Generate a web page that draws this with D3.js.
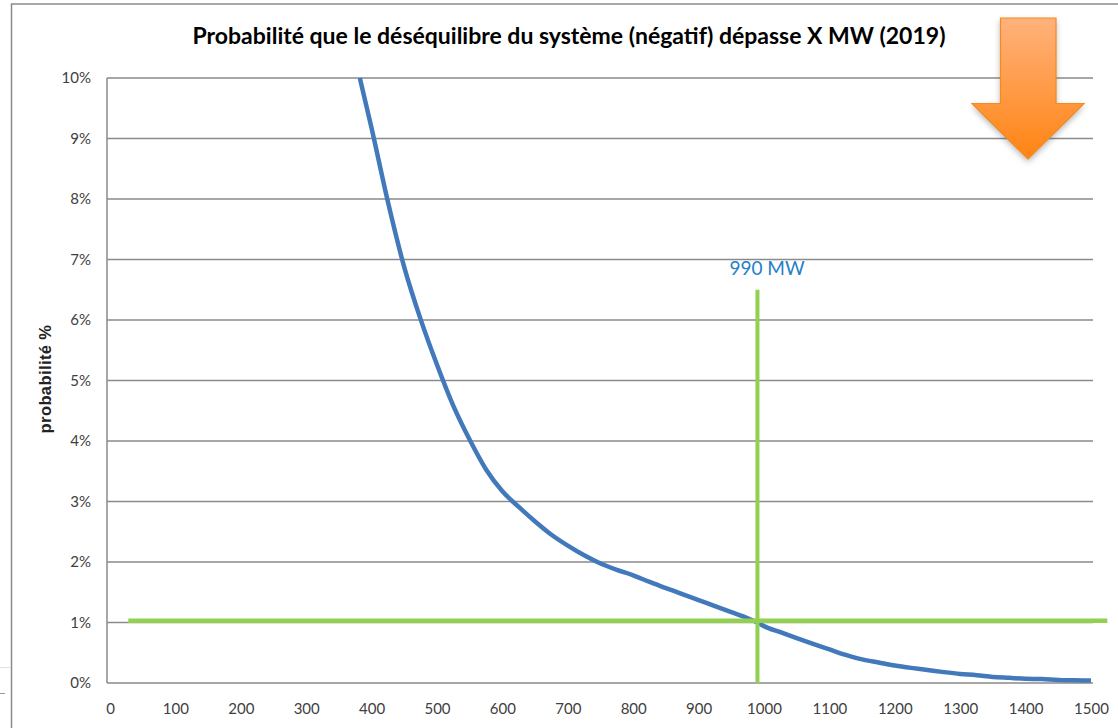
<!DOCTYPE html>
<html lang="fr">
<head>
    <meta charset="utf-8">
    <script src="https://d3js.org/d3.v7.min.js"></script>
    <title>Probabilité de déséquilibre</title>
    <style>
        html, body { margin: 0; padding: 0; background: #fff; overflow: hidden; }
        svg { display: block; }
        text { font-family: Lato, sans-serif; }
    </style>
</head>
<body>
    <svg width="1118" height="728"></svg>
    <script>
        // values
        var mw = [382, 400, 425, 450, 475, 500, 525, 550, 575, 600, 625, 650, 675, 700, 725, 750, 775, 800,
                  825, 850, 875, 900, 925, 950, 975, 990, 1000, 1025, 1050, 1075, 1100, 1125, 1150, 1175, 1200,
                  1225, 1250, 1275, 1300, 1325, 1350, 1375, 1400, 1425, 1450, 1475, 1500];
        var probability = [10.0, 9.17, 7.95, 6.87, 6.01, 5.26, 4.58, 4.02, 3.53, 3.17, 2.91, 2.67, 2.45, 2.27, 2.11, 1.975, 1.87, 1.78,
                  1.67, 1.57, 1.47, 1.37, 1.27, 1.17, 1.07, 1.0, 0.94, 0.84, 0.74, 0.645, 0.555, 0.465, 0.39, 0.34, 0.29,
                  0.25, 0.215, 0.18, 0.15, 0.13, 0.10, 0.085, 0.07, 0.065, 0.05, 0.045, 0.04];
        var xTicks = [0, 100, 200, 300, 400, 500, 600, 700, 800, 900, 1000, 1100, 1200, 1300, 1400, 1500];
        var yTicks = [0, 1, 2, 3, 4, 5, 6, 7, 8, 9, 10];
        var hLineMw = [28, 1525];
        var hLinePct = [1.03, 1.03];
        var vLineMw = [990, 990];
        var vLinePct = [0, 6.5];

        var title = "Probabilité que le déséquilibre du système (négatif) dépasse X MW (2019)";

        var svg = d3.select("svg");

        var xScale = d3.scaleLinear().domain([0, 1500]).range([110, 1091]),
            yScale = d3.scaleLinear().domain([0, 10]).range([683, 78]);

        // frame of the screenshot
        svg.append("path")
            .attr("d", "M11.5,728V4H1118")
            .style("fill", "none")
            .style("stroke", "#8a8a8a")
            .style("stroke-width", 1.5);
        svg.append("line").attr("x1", 0).attr("x2", 11).attr("y1", 667.5).attr("y2", 667.5)
            .style("stroke", "#e2e2dc");
        svg.append("line").attr("x1", 0).attr("x2", 5).attr("y1", 693.5).attr("y2", 693.5)
            .style("stroke", "#9a9a9a");

        // horizontal grid lines
        svg.append("g")
            .selectAll("line")
            .data(yTicks)
            .enter()
            .append("line")
            .attr("x1", 107)
            .attr("x2", 1093)
            .attr("y1", function (d) { return yScale(d); })
            .attr("y2", function (d) { return yScale(d); })
            .style("stroke", "#8a8a8a")
            .style("stroke-width", 1.5);

        svg.append("line")
            .attr("x1", 107).attr("x2", 107)
            .attr("y1", yScale(10)).attr("y2", yScale(0))
            .style("stroke", "#8a8a8a")
            .style("stroke-width", 1.5);

        var yAxis = svg.append("g")
            .attr("transform", "translate(91,0)")
            .call(d3.axisLeft(yScale).tickValues(yTicks).tickSize(0).tickPadding(0)
                .tickFormat(function (d) { return d + "%"; }));
        var xAxis = svg.append("g")
            .attr("transform", "translate(0,703)")
            .call(d3.axisBottom(xScale).tickValues(xTicks).tickSize(0).tickPadding(0)
                .tickFormat(d3.format("d")));
        yAxis.select(".domain").remove();
        xAxis.select(".domain").remove();
        svg.selectAll(".tick text")
            .style("font-family", "Lato, sans-serif")
            .style("font-size", "15px")
            .style("fill", "#404040");

        // y axis label
        svg.append("text")
            .attr("transform", "translate(51,379)rotate(-90)")
            .attr("text-anchor", "middle")
            .style("font-family", "'Liberation Sans', sans-serif")
            .style("font-size", "16.5px")
            .style("letter-spacing", "0.4px")
            .style("font-weight", "bold")
            .style("fill", "#222")
            .text("probabilité %");

        // title
        svg.append("text")
            .attr("x", 569)
            .attr("y", 44)
            .attr("text-anchor", "middle")
            .style("font-size", "23px")
            .style("font-weight", "bold")
            .style("fill", "#000")
            .text(title);

        var curve = d3.line()
            .x(function (d) { return xScale(d[0]); })
            .y(function (d) { return yScale(d[1]); });

        // probability curve
        svg.append("path")
            .datum(d3.zip(mw, probability))
            .attr("d", curve.curve(d3.curveMonotoneX))
            .style("fill", "none")
            .style("stroke", "#4279BB")
            .style("stroke-width", 4.5);
        curve.curve(d3.curveLinear);

        // 1% and 990 MW markers
        svg.append("path")
            .datum(d3.zip(hLineMw, hLinePct))
            .attr("d", curve)
            .style("fill", "none")
            .style("stroke", "#92D050")
            .style("stroke-width", 4.5);
        svg.append("path")
            .datum(d3.zip(vLineMw, vLinePct))
            .attr("d", curve)
            .style("fill", "none")
            .style("stroke", "#92D050")
            .style("stroke-width", 4);

        svg.append("text")
            .attr("x", 767)
            .attr("y", 275)
            .attr("text-anchor", "middle")
            .style("font-size", "19px")
            .style("fill", "#2480C6")
            .text("990 MW");

        // orange arrow
        var defs = svg.append("defs");
        var grad = defs.append("linearGradient")
            .attr("id", "arrowFill")
            .attr("x1", 0).attr("x2", 0).attr("y1", 0).attr("y2", 1);
        grad.append("stop").attr("offset", "0%").attr("stop-color", "#FFB27C");
        grad.append("stop").attr("offset", "100%").attr("stop-color", "#FF8412");
        var blur = defs.append("filter")
            .attr("id", "arrowShadow")
            .attr("x", "-20%").attr("y", "-20%").attr("width", "140%").attr("height", "140%");
        blur.append("feGaussianBlur").attr("stdDeviation", 3);

        var arrow = "M1000.5,18H1056V103.5H1084L1028,159L972,103.5H1000.5Z";
        svg.append("path")
            .attr("d", arrow)
            .attr("transform", "translate(0,3)")
            .attr("filter", "url(#arrowShadow)")
            .style("fill", "#555")
            .style("opacity", 0.45);
        svg.append("path")
            .attr("d", arrow)
            .style("fill", "url(#arrowFill)")
            .style("stroke", "#F58A1F")
            .style("stroke-width", 1.2);
    </script>
</body>
</html>
